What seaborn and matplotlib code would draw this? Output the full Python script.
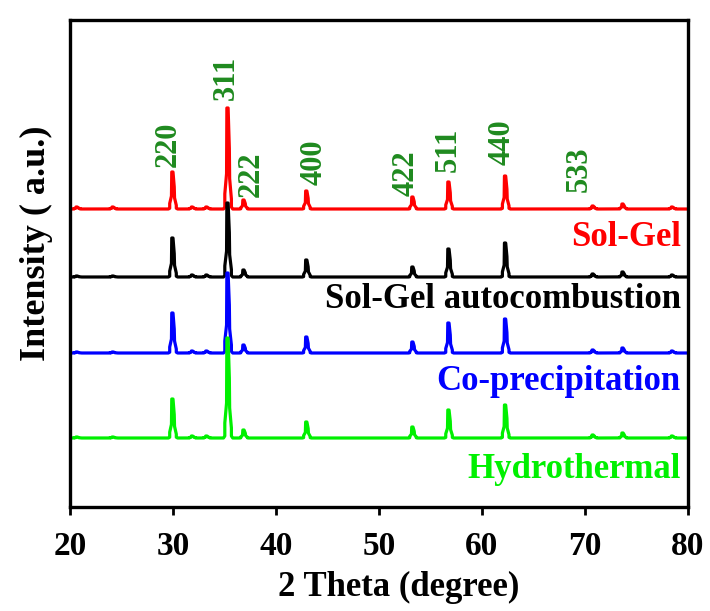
import numpy as np
import pandas as pd
import matplotlib
matplotlib.use("Agg")
import matplotlib.pyplot as plt
import seaborn as sns

sns.set_style("white")
plt.rcParams['font.family'] = ['Liberation Serif', 'DejaVu Serif']
plt.rcParams['font.weight'] = 'bold'
plt.rcParams['text.color'] = 'black'
plt.rcParams['axes.labelcolor'] = 'black'
plt.rcParams['xtick.color'] = 'black'

# ---- data ----
samples = ["Sol-Gel", "Sol-Gel autocombustion", "Co-precipitation", "Hydrothermal"]
colors = ["#ff0000", "#000000", "#0000ff", "#00f000"]
baselines = [298, 230, 154, 69]          # vertical offsets (a.u.)

peak_pos = [20.7, 24.2, 30.0, 31.9, 33.3, 35.35, 36.9, 43.0, 53.3, 56.8, 62.3, 70.8, 73.7, 78.5]
heights_solgel = [2, 2, 37, 2, 2, 101, 9, 18, 12, 27, 33, 3, 5, 2]
heights_auto   = [1, 1, 39, 2, 2, 74, 7, 17, 10, 28, 34, 3, 5, 2]
heights_copre  = [1, 1, 40, 2, 2, 80, 8, 16, 11, 30, 34, 3, 5, 2]
heights_hydro  = [1, 1, 39, 2, 2, 100, 8, 16, 11, 28, 33, 3, 5, 2]
all_heights = [heights_solgel, heights_auto, heights_copre, heights_hydro]

hkl_labels = ["220", "311", "222", "400", "422", "511", "440", "533"]
hkl_x = [29.5, 35.2, 37.6, 43.7, 52.6, 56.7, 62.0, 69.4]
hkl_y = [340, 407, 310, 322, 311, 335, 342, 315]

x_ticks = [20, 30, 40, 50, 60, 70, 80]

# narrow peak profile (shape template)
prof_dx = [-0.45, -0.32, -0.32, -0.15, -0.12, 0.0, 0.12, 0.15, 0.32, 0.32, 0.45]
prof_f  = [0.0, 0.02, 0.15, 0.35, 1.0, 1.0, 0.6, 0.3, 0.1, 0.02, 0.0]

rows = []
for s, base, hts in zip(samples, baselines, all_heights):
    rows.append((20.0, base, s))
    for p, h in zip(peak_pos, hts):
        for dx, f in zip(prof_dx, prof_f):
            rows.append((p + dx, base + f * h, s))
    rows.append((80.0, base, s))
df = pd.DataFrame(rows, columns=["two_theta", "intensity", "sample"])

fig = plt.figure(figsize=(7.10, 6.11), dpi=100)
ax = fig.add_axes([70/710, 1 - 507/611, (688-70)/710, (507-20)/611])

sns.lineplot(data=df, x="two_theta", y="intensity", hue="sample",
             palette=dict(zip(samples, colors)), sort=False, estimator=None,
             linewidth=2.3, ax=ax, legend=False)

ax.set_xlim(20, 80)
ax.set_ylim(0, 487)
ax.set_xticks(x_ticks)
ax.set_yticks([])
ax.tick_params(axis='x', direction='out', length=6, width=2, labelsize=24, pad=11,
               bottom=True, colors='black', labelcolor='black')
for lab in ax.get_xticklabels():
    lab.set_fontweight('bold')
for sp in ax.spines.values():
    sp.set_linewidth(2.4)
    sp.set_color('black')

ax.set_xlabel("2 Theta (degree)", fontsize=25, fontweight='bold', color='black')
ax.set_ylabel("Intensity ( a.u.)", fontsize=26, fontweight='bold', color='black')
ax.xaxis.set_label_coords((399 - 70) / 618, -(587 - 507) / 487)
ax.yaxis.set_label_coords(-(70 - 36) / 618, (507 - 243) / 487)
ax.xaxis.label.set_va('center')
ax.yaxis.label.set_va('center')

for t, x, y in zip(hkl_labels, hkl_x, hkl_y):
    ax.text(x, y, t, rotation=90, ha='center', va='bottom', color='#1f8a1f',
            fontsize=22, fontweight='bold')

label_y = [270, 208, 125, 38]
for s, c, y in zip(samples, colors, label_y):
    ax.text(79.3, y, s, ha='right', va='center', color=c, fontsize=25, fontweight='bold')

fig.savefig("out.png", dpi=100)
